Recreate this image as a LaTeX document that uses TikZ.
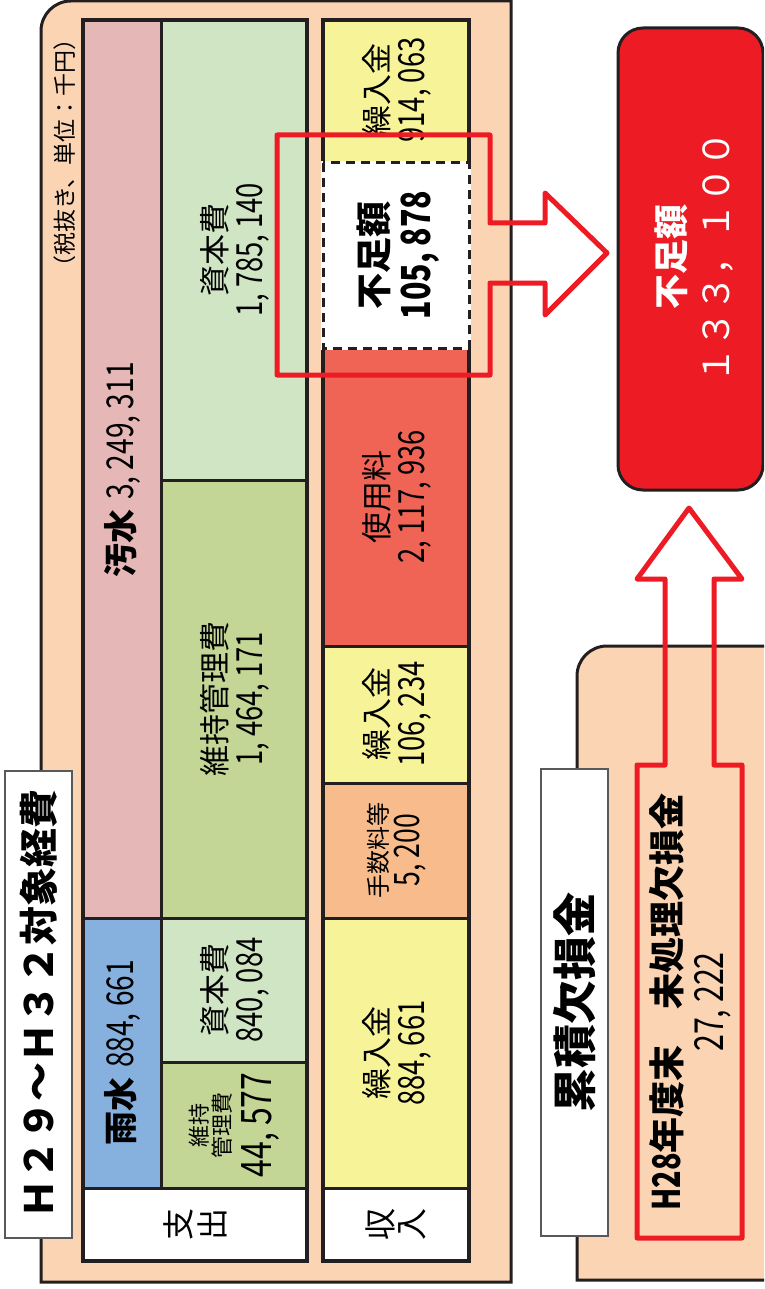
\documentclass[tikz,border=0pt]{standalone}
\usepackage{fontspec}
\setmainfont{Noto Sans CJK JP}
\newfontfamily\numf[FakeStretch=0.76]{Noto Sans CJK JP}

\definecolor{ink}{RGB}{35,31,32}
\definecolor{peach}{RGB}{251,212,180}
\definecolor{pinkc}{RGB}{230,183,183}
\definecolor{mintc}{RGB}{208,229,196}
\definecolor{olivec}{RGB}{196,214,150}
\definecolor{bluec}{RGB}{134,176,221}
\definecolor{yellowc}{RGB}{247,243,152}
\definecolor{salmonc}{RGB}{240,100,85}
\definecolor{orangec}{RGB}{248,188,140}
\definecolor{alarm}{RGB}{237,28,36}

\newcommand{\fsz}[1]{\fontsize{#1}{#1}\selectfont}
\newcommand{\nm}[2]{{\numf\fontsize{#1}{#1}\selectfont #2}}

\tikzset{
  cell/.style={draw=ink, line width=3pt},
  frame/.style={draw=ink, line width=3.5pt},
  lbl/.style={rotate=90, align=center, inner sep=0pt, font=\fontsize{31}{36}\selectfont},
  tag/.style={draw=black!65, line width=1.5pt, fill=white},
  redarrow/.style={draw=alarm, line width=5pt, line join=round},
}

\begin{document}
\begin{tikzpicture}[x=1pt,y=-1pt]
  \useasboundingbox (0,0) rectangle (764,1289);
  \clip (0,0) rectangle (764,1289);

  % outer board
  \draw[frame, line width=3pt, fill=peach] (511,1282) -- (41,1282) -- (41,31)
    .. controls (41,14.4) and (54.4,1) .. (71,1) -- (511,1) -- cycle;

  % expenses
  \draw[cell, fill=pinkc] (83,20) rectangle (161,918);
  \draw[cell, fill=bluec] (83,918) rectangle (161,1188);
  \draw[cell, fill=mintc] (161,20) rectangle (307,480);
  \draw[cell, fill=olivec] (161,480) rectangle (307,918);
  \draw[cell, fill=mintc] (161,918) rectangle (307,1062);
  \draw[cell, fill=olivec] (161,1062) rectangle (307,1188);
  \draw[cell, fill=white] (83,1188) rectangle (307,1261);
  \draw[frame] (83,20) rectangle (307,1261);

  % revenue
  \draw[cell, fill=yellowc] (323,20) rectangle (469,163);
  \draw[cell, fill=salmonc] (323,348) rectangle (469,646);
  \draw[cell, fill=yellowc] (323,646) rectangle (469,783);
  \draw[cell, fill=orangec] (323,783) rectangle (469,918);
  \draw[cell, fill=yellowc] (323,918) rectangle (469,1188);
  \draw[cell, fill=white] (323,1188) rectangle (469,1261);
  \draw[frame] (323,20) rectangle (469,1261);
  \fill[white] (321,161) rectangle (471,350);
  \draw[ink, line width=3pt, dash pattern=on 9pt off 6pt] (323,163) rectangle (469,348);

  \node[lbl] (osui) at (122,470) {{\fsz{34}\bfseries 汚水}\hspace{10pt}\nm{37}{3, 249, 311}};
  \node[lbl] (usui) at (122,1053) {{\fsz{34}\bfseries 雨水}\hspace{10pt}\nm{37}{884, 661}};
  \node[lbl] (shihon1) at (235,250) {資本費\\\nm{36}{1, 785, 140}};
  \node[lbl] (iji1) at (235,699) {維持管理費\\\nm{36}{1, 464, 171}};
  \node[lbl] (shihon2) at (235,990) {資本費\\\nm{36}{840, 084}};
  \node[lbl, font=\fontsize{22}{23}\selectfont] (iji2) at (234,1125) {維持\\管理費\\[8pt]\nm{42}{44, 577}};
  \node[lbl, font=\fontsize{32}{34}\selectfont] (shishutsu) at (195,1224) {支\\出};

  \node[lbl] (kuri1) at (397,90) {繰入金\\\nm{36}{914, 063}};
  \node[lbl, font=\fontsize{36}{43}\selectfont\bfseries] (fusoku) at (398,255) {不足額\\{\numf\fontsize{40}{40}\selectfont 105, 878}};
  \node[lbl] (shiyo) at (397,497) {使用料\\\nm{36}{2, 117, 936}};
  \node[lbl] (kuri2) at (397,714) {繰入金\\\nm{36}{106, 234}};
  \node[lbl, font=\fontsize{24}{32}\selectfont] (tesu) at (397,850) {手数料等\\\nm{35}{5, 200}};
  \node[lbl] (kuri3) at (397,1053) {繰入金\\\nm{36}{884, 661}};
  \node[lbl, font=\fontsize{32}{31}\selectfont] (shunyu) at (396,1224) {収\\入};

  % headings
  \draw[tag] (5,771) rectangle (72,1238);
  \node[lbl, font=\fsz{39}\bfseries] (title) at (38.5,1004) {Ｈ２９～Ｈ３２対象経費};
  \node[lbl, font=\fsz{23}] (note) at (65,153) {（税抜き、単位：千円）};

  % total shortfall
  \draw[ink, line width=3pt, fill=alarm, rounded corners=25pt] (618,28) rectangle (763,490);
  \node[lbl, text=white, font=\fontsize{35}{45}\selectfont] (deficit) at (694,257)
    {{\bfseries 不足額}\\{\fsz{36}１３３，１００}};

  % accumulated loss
  \draw[ink, line width=3pt, fill=peach] (577,1280) -- (577,676)
    .. controls (577,659.4) and (590.4,646) .. (607,646) -- (780,646) -- (780,1280) -- cycle;
  \draw[tag] (541,769) rectangle (608,1236);
  \node[lbl, font=\fsz{44}\bfseries] (ruiseki) at (574.5,1002) {累積欠損金};
  \node[lbl, font=\fontsize{36}{43}\selectfont] (h28) at (690,1002)
    {{\bfseries\nm{38}{\bfseries H28}年度末　未処理欠損金}\\\nm{40}{27, 222}};

  % arrows
  \draw[redarrow] (277,135) -- (490,135) -- (490,223) -- (545,223) -- (545,193) -- (607,253)
    -- (545,315) -- (545,283) -- (490,283) -- (490,375) -- (277,375) -- cycle;
  \draw[redarrow] (637,1238) -- (637,765) -- (665,765) -- (665,579) -- (637,579) -- (689,508)
    -- (742,579) -- (714,579) -- (714,765) -- (742,765) -- (742,1238) -- cycle;
\end{tikzpicture}
\end{document}
